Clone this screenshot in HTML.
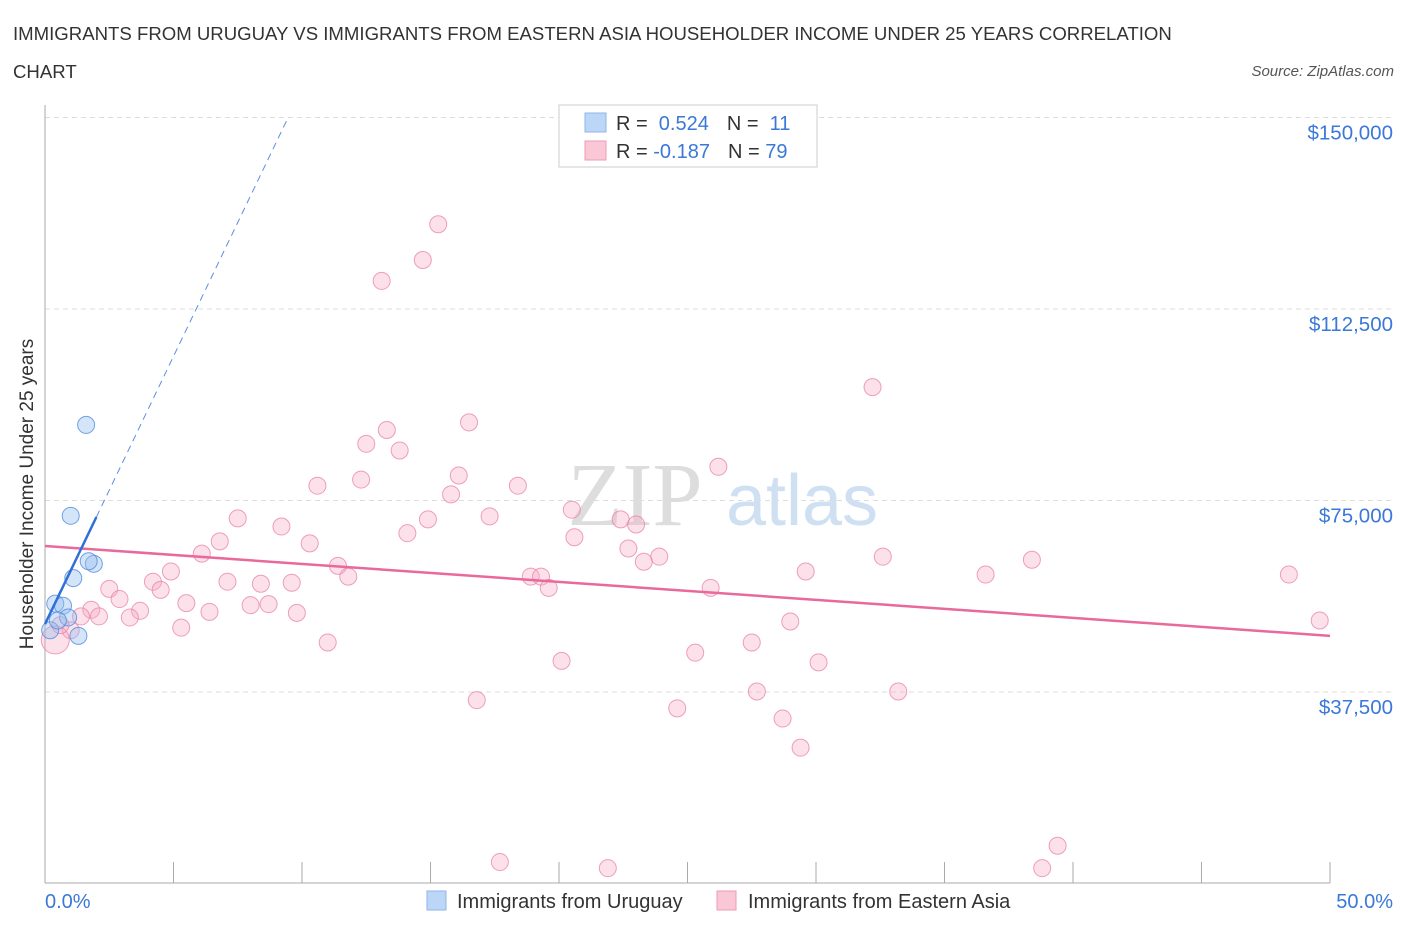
<!DOCTYPE html>
<html><head><meta charset="utf-8">
<style>
body{margin:0;background:#fff;font-family:"Liberation Sans",sans-serif;}
#wrap{position:relative;width:1406px;height:930px;overflow:hidden;}
</style></head>
<body>
<div id="wrap">
<svg id="chart" width="1406" height="930" xmlns="http://www.w3.org/2000/svg">
<text x="13" y="40" font-size="18.6" fill="#333">IMMIGRANTS FROM URUGUAY VS IMMIGRANTS FROM EASTERN ASIA HOUSEHOLDER INCOME UNDER 25 YEARS CORRELATION</text>
<text x="13" y="78" font-size="18.6" fill="#333">CHART</text>
<text x="1394" y="76" font-size="15" fill="#555" font-style="italic" text-anchor="end">Source: ZipAtlas.com</text>
<text x="33" y="494" font-size="19" fill="#333" text-anchor="middle" transform="rotate(-90 33 494)">Householder Income Under 25 years</text>
<g><text x="635" y="525" font-size="90" fill="#ddd" font-family="Liberation Serif,serif" text-anchor="middle">ZIP</text><text x="802" y="525" font-size="72" fill="#cfe0f3" text-anchor="middle">atlas</text></g>
<g id="grid"></g><g id="axes"></g><g id="marks"></g>
<g>
<rect x="559" y="105" width="258" height="62" fill="#fff" stroke="#ccc"/>
<rect x="585" y="113" width="21" height="19" fill="#bcd6f7" stroke="#8fb6ea"/>
<rect x="585" y="141" width="21" height="19" fill="#f9c7d6" stroke="#ee9bb5"/>
<text x="616" y="130" font-size="20" fill="#333">R = <tspan fill="#3b78d8">&#160;0.524</tspan><tspan dx="18">N = </tspan><tspan fill="#3b78d8">&#160;11</tspan></text>
<text x="616" y="158" font-size="20" fill="#333">R = <tspan fill="#3b78d8">-0.187</tspan><tspan dx="18">N = </tspan><tspan fill="#3b78d8">79</tspan></text>
</g>
<g>
<rect x="427" y="891" width="19" height="19" fill="#bcd6f7" stroke="#8fb6ea"/>
<text x="457" y="908" font-size="20" fill="#333">Immigrants from Uruguay</text>
<rect x="717" y="891" width="19" height="19" fill="#f9c7d6" stroke="#ee9bb5"/>
<text x="748" y="908" font-size="20" fill="#333">Immigrants from Eastern Asia</text>
</g>
</svg>
</div>
<script>
const yTicks=[37500,75000,112500,150000];
const yTickLabels=["$37,500","$75,000","$112,500","$150,000"];
const xTickVals=[0,5,10,15,20,25,30,35,40,45,50];
const xEndLabels=["0.0%","50.0%"];
const pinkX=[15.3,14.7,13.1,32.2,16.5,13.3,12.5,13.8,26.2,16.1,12.3,10.6,18.4,15.8,20.5,7.5,14.9,17.3,9.2,22.4,23.0,14.1,6.8,10.3,20.6,6.1,22.7,23.9,32.6,38.4,23.3,11.4,4.9,11.8,18.9,19.3,29.6,36.6,48.4,4.2,7.1,8.4,9.6,4.5,2.5,25.9,19.6,2.9,5.5,8.0,8.7,3.7,6.4,9.8,1.8,2.1,3.3,29.0,49.6,5.3,11.0,27.5,25.3,20.1,30.1,27.7,33.2,16.8,24.6,28.7,29.4,39.4,17.7,21.9,38.8,1.4,1.0,0.4,0.6];
const pinkY=[129100,122100,118000,97200,90300,88800,86100,84800,81600,79900,79100,77900,77900,76200,73200,71500,71300,71900,69900,71300,70300,68600,67000,66600,67800,64600,65600,64000,64000,63400,63000,62200,61100,60100,60100,60100,61100,60500,60500,59100,59100,58700,58900,57500,57700,57900,57900,55700,54900,54500,54700,53400,53200,53000,53600,52300,52100,51300,51500,50100,47200,47200,45200,43600,43300,37600,37600,35900,34300,32300,26600,7400,4200,3000,3000,52300,49600,47700,50600];
const blueX=[1.6,1.0,1.1,1.9,1.7,0.4,0.7,0.9,1.3,0.2,0.5];
const blueY=[89800,72000,59800,62600,63100,54800,54400,52100,48500,49600,51500];
const pinkTrend=[66100,48500];
const blueTrend=[50800,10486];
const X0=45,X1=1330,Y0=883.5,PXY=191.5/37500;
const sx=v=>X0+(v/50)*(X1-X0);
const sy=v=>Y0-v*PXY;
const NS="http://www.w3.org/2000/svg";
function mk(t,a,p){const e=document.createElementNS(NS,t);for(const k in a)e.setAttribute(k,a[k]);p.appendChild(e);return e;}
const grid=document.getElementById('grid'),axes=document.getElementById('axes'),marks=document.getElementById('marks');
yTicks.forEach((v,i)=>{
 const l=mk('line',{x1:X0,x2:1395,y1:sy(v),y2:sy(v),stroke:'#ddd','stroke-dasharray':'5,4'},grid);
 
 
 const t=mk('text',{x:1393,y:sy(v)+22,'font-size':20.5,fill:'#3b78d8','text-anchor':'end'},axes);
 t.textContent=yTickLabels[i];
 
 
});
const ya=mk('line',{x1:X0,x2:X0,y1:105,y2:883,stroke:'#aaa'},axes);


const xa=mk('line',{x1:X0,x2:X1,y1:883,y2:883,stroke:'#aaa'},axes);


xTickVals.forEach(v=>{
 const l=mk('line',{x1:sx(v),x2:sx(v),y1:862,y2:883,stroke:'#aaa'},axes);
 
 
});
[[0,'start',45],[1,'end',1393]].forEach(([i,a,x])=>{
 const t=mk('text',{x:x,y:908,'font-size':20,fill:'#3b78d8','text-anchor':a},axes);
 t.textContent=xEndLabels[i];
 
 
});
pinkX.forEach((x,i)=>{
 const big=(i===pinkX.length-2);
 const c=mk('circle',{cx:sx(x),cy:sy(pinkY[i]),r:big?14:8.5,fill:'rgba(246,170,195,0.35)',stroke:'rgba(232,130,165,0.75)','stroke-width':1},marks);
 
 
});
blueX.forEach((x,i)=>{
 const c=mk('circle',{cx:sx(x),cy:sy(blueY[i]),r:8.5,fill:'rgba(150,190,240,0.4)',stroke:'rgba(80,140,220,0.8)','stroke-width':1},marks);
 
 
});
const pl=mk('line',{x1:sx(0),y1:sy(pinkTrend[0]),x2:sx(50),y2:sy(pinkTrend[1]),stroke:'#e8699a','stroke-width':2.5},marks);


const bEnd=2.0, bTop=(150000-blueTrend[0])/blueTrend[1];
const bl=mk('line',{x1:sx(0),y1:sy(blueTrend[0]),x2:sx(bEnd),y2:sy(blueTrend[0]+blueTrend[1]*bEnd),stroke:'#2f6fd6','stroke-width':2.5},marks);


const bd=mk('line',{x1:sx(bEnd),y1:sy(blueTrend[0]+blueTrend[1]*bEnd),x2:sx(bTop),y2:sy(150000),stroke:'#5a8fe0','stroke-width':1,'stroke-dasharray':'7,5'},marks);


</script>
</body></html>
